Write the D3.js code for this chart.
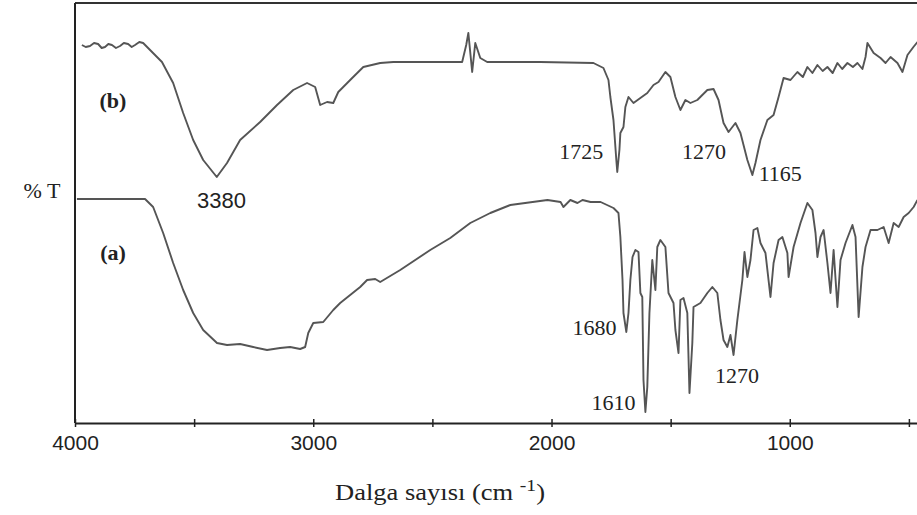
<!DOCTYPE html>
<html><head><meta charset="utf-8">
<script src="https://cdn.jsdelivr.net/npm/d3@7"></script>
<style>body{margin:0;background:#fff}svg{display:block}</style>
</head><body>
<svg id="c" width="917" height="515"></svg>
<script>
// wavenumber (cm-1)
const bWave = [3971,3955,3937,3920,3903,3888,3874,3860,3845,3828,3811,3795,3777,3762,3748,3730,3714,3635,3588,3546,3504,3462,3405,3362,3307,3223,3152,3084,3026,2992,2971,2942,2916,2895,2845,2790,2719,2664,2509,2375,2358,2349,2333,2320,2299,2270,2047,1824,1782,1761,1753,1740,1728,1724,1715,1711,1698,1690,1677,1656,1627,1598,1572,1551,1522,1501,1480,1459,1438,1417,1388,1346,1320,1299,1278,1257,1228,1207,1178,1157,1144,1123,1094,1068,1047,1026,997,968,945,926,905,884,862,842,820,800,780,758,735,716,695,682,674,648,619,598,577,548,527,506,481,464];
const bT    = [94.5,94,94.25,95,94.75,93.75,94,94.75,94.5,93.75,94.25,95,94.75,94,94.5,95.25,95,90.25,85,77.5,70.75,65.75,61.5,65,70.75,75.25,79.5,83.25,85,84,79.5,80.25,80,82.75,85.75,89,90,90.25,90.25,90.25,94.5,97.5,87.75,95,91.25,90.25,90.25,90,88.75,85.75,81.5,75.75,65.75,62.75,68.25,72.5,74,79,81.5,80,81.25,82.5,84.5,85.25,87.75,86.5,81.5,78.25,80.75,80,80.75,83.25,83.5,80.75,75,72.75,75,72.5,65.75,62,65,70.75,75.75,77,81.5,86.25,85.75,87.75,86.5,89,87.5,89.5,88,89,87.5,90,88.5,90,89,90,88.5,91.5,95,92.5,91.25,90,91.5,90,87.75,92,94,95.25];

const aWave = [3992,3706,3672,3630,3588,3546,3504,3462,3404,3362,3307,3252,3194,3139,3097,3055,3034,3021,3000,2958,2916,2887,2845,2803,2774,2740,2719,2635,2509,2425,2341,2257,2173,2017,1962,1950,1921,1891,1870,1836,1794,1740,1719,1711,1702,1698,1686,1677,1669,1660,1648,1635,1627,1619,1614,1606,1598,1589,1577,1564,1556,1543,1522,1509,1488,1480,1467,1459,1446,1430,1421,1409,1404,1375,1346,1325,1304,1291,1278,1262,1249,1236,1220,1199,1190,1178,1165,1152,1136,1123,1102,1081,1068,1047,1031,1010,1005,984,955,926,905,892,884,871,858,842,829,816,800,787,766,737,724,711,695,682,661,632,606,585,564,543,522,501,480,464];
const aT    = [56,56,54,47.5,40,33.25,27.5,23.25,20,19.5,19.75,19,18.25,18.75,19,18.5,19,22.5,25,25.25,28.25,30,32,34,35.75,36,35.25,38.25,43.25,46.25,50,52.5,54.5,55.75,55.25,54,55.75,55,55.75,55.25,55.25,53.75,52.5,46.5,35.75,27.5,22.75,27.5,35.75,41.5,43.25,42.75,32.5,31.5,10.75,2.75,9,27.5,40.75,33.25,44,45.75,44,32.5,30,23.25,17.5,30.75,31.25,27.5,7.5,20,29,30,32.5,34,32.5,25.75,20.75,19,22,17,25.75,35.75,42.75,36.5,40.75,48.25,48.75,45,42.5,31.5,40,45.75,46.5,42.5,36.5,44,50,55,53.25,47.5,41.5,46.5,48.25,40,32.5,43.25,29,40.75,45,49.5,46.5,26.5,39,44,48.25,48.25,49,45,50,49,51.5,52.5,54,55.75];

const tickValues = [4000,3500,3000,2500,2000,1500,1000,500];
const tickLabels = ["4000","","3000","","2000","","1000",""];

const peakLabelsB = [{t:"3380",w:3385,v:53.75},{t:"1725",w:1875,v:66},{t:"1270",w:1360,v:66},{t:"1165",w:1040,v:60.5}];
const peakLabelsA = [{t:"1680",w:1820,v:22},{t:"1610",w:1740,v:3.2},{t:"1270",w:1222,v:10}];

const svg = d3.select("#c");
const x = d3.scaleLinear().domain([4000,466]).range([75,917]);
const y = d3.scaleLinear().domain([0,105]).range([423,3]);

// frame top line
svg.append("line").attr("x1",75).attr("x2",917).attr("y1",y(105)).attr("y2",y(105))
  .attr("stroke","#333").attr("stroke-width",2);
// y axis
svg.append("line").attr("x1",x(4000)).attr("x2",x(4000)).attr("y1",y(105)).attr("y2",y(0))
  .attr("stroke","#222").attr("stroke-width",2);

const xAxis = d3.axisBottom(x).tickValues(tickValues).tickSizeInner(4).tickSizeOuter(0)
  .tickFormat((d,i)=>tickLabels[i]);
const gx = svg.append("g").attr("transform",`translate(0,${y(0)})`).call(xAxis);
gx.select(".domain").attr("stroke","#222").attr("stroke-width",2);
gx.selectAll(".tick line").attr("stroke","#222").attr("stroke-width",1.5).attr("y1",-4);
gx.selectAll(".tick text").attr("font-family","Liberation Sans, Arial, sans-serif")
  .attr("font-size",21).attr("fill","#222").attr("dy","0.95em");

const line = d3.line().x(d=>x(d[0])).y(d=>y(d[1]));
svg.append("path").datum(d3.zip(bWave,bT)).attr("d",line)
  .attr("fill","none").attr("stroke","#555").attr("stroke-width",1.9).attr("stroke-linejoin","round");
svg.append("path").datum(d3.zip(aWave,aT)).attr("d",line)
  .attr("fill","none").attr("stroke","#555").attr("stroke-width",1.9).attr("stroke-linejoin","round");

// labels
svg.append("text").attr("x",113).attr("y",108).attr("text-anchor","middle")
  .attr("font-family","Liberation Serif, serif").attr("font-weight","bold").attr("font-size",22).attr("fill","#222").text("(b)");
svg.append("text").attr("x",113).attr("y",260).attr("text-anchor","middle")
  .attr("font-family","Liberation Serif, serif").attr("font-weight","bold").attr("font-size",22).attr("fill","#222").text("(a)");

svg.selectAll(".pb").data(peakLabelsB).enter().append("text")
  .attr("x",d=>x(d.w)).attr("y",d=>y(d.v)).attr("text-anchor","middle")
  .attr("font-family",(d,i)=> i===0 ? "Liberation Sans, Arial, sans-serif" : "Liberation Serif, serif")
  .attr("font-size",22).attr("fill","#222").text(d=>d.t);
svg.selectAll(".pa").data(peakLabelsA).enter().append("text")
  .attr("x",d=>x(d.w)).attr("y",d=>y(d.v)).attr("text-anchor","middle")
  .attr("font-family","Liberation Serif, serif")
  .attr("font-size",22).attr("fill","#222").text(d=>d.t);

svg.append("text").attr("x",42).attr("y",198).attr("text-anchor","middle")
  .attr("font-family","Liberation Serif, serif").attr("font-size",22).attr("fill","#222").text("% T");

const title = svg.append("text").attr("x",440).attr("y",500).attr("text-anchor","middle")
  .attr("font-family","Liberation Serif, serif").attr("font-size",23).attr("fill","#222")
  .attr("textLength",210).attr("lengthAdjust","spacingAndGlyphs");
title.append("tspan").text("Dalga sayısı (cm ");
title.append("tspan").attr("dy",-9).attr("font-size",17).text("-1");
title.append("tspan").attr("dy",9).text(")");
</script>
</body></html>
